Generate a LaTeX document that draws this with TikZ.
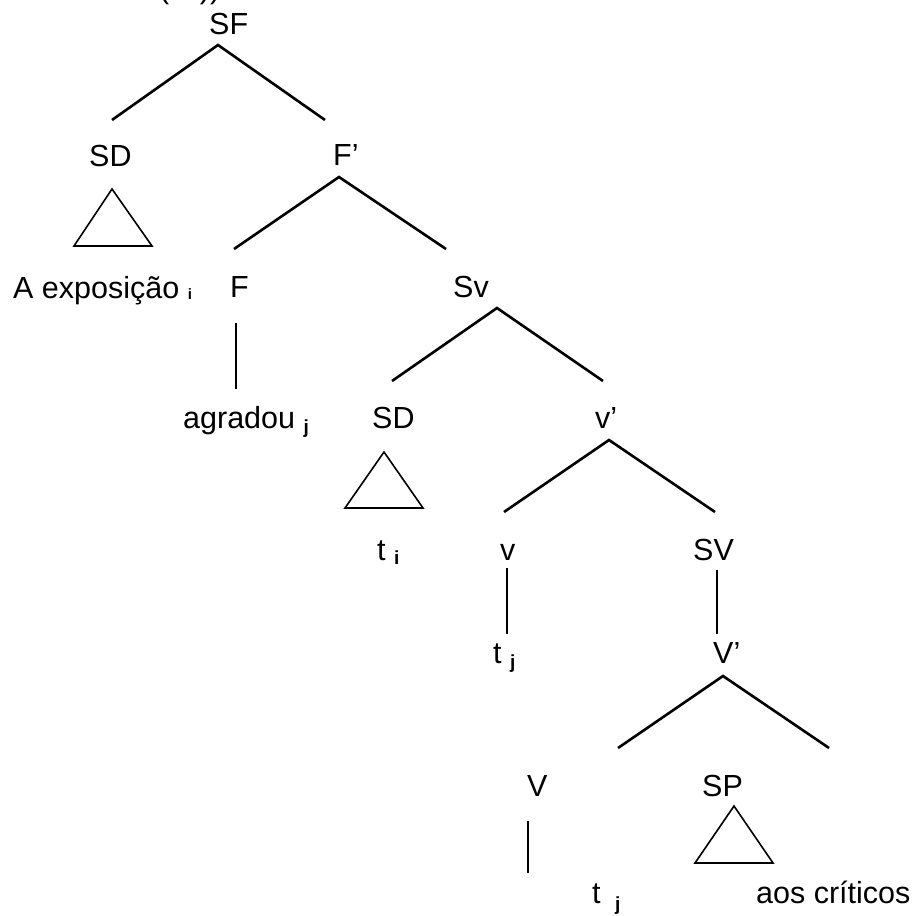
\documentclass[tikz,border=0pt]{standalone}
\usepackage{fontspec}
\setmainfont{Liberation Sans}
\newcommand{\subx}[2][-5pt]{\raisebox{#1}{\fontsize{19}{19}\selectfont\bfseries #2}}
\begin{document}
\begin{tikzpicture}[x=1pt,y=-1pt,
  lab/.style={anchor=base west,inner sep=0pt,font=\fontsize{30.5}{36}\selectfont},
  branch/.style={line width=2.6pt,line cap=butt,line join=miter},
  tri/.style={line width=1.6pt,line join=miter}]
\useasboundingbox (0,0) rectangle (920,915);
% partially visible text at top
\node[lab] (top) at (159,-1) {(\phantom{xx}))};
% labels
\node[lab] (SF) at (209,35) {SF};
\node[lab] (SD1) at (89,166) {SD};
\node[lab] (Fbar) at (333,165) {F’};
\node[lab] (expo) at (13,298) {A exposição \subx[-1pt]{\fontsize{15}{15}\selectfont i}};
\node[lab] (F) at (230,297) {F};
\node[lab] (Sv) at (453,297) {Sv};
\node[lab] (agr) at (183,428) {agradou \subx{j}};
\node[lab] (SD2) at (372,428) {SD};
\node[lab] (vbar) at (595,428) {v’};
\node[lab] (ti) at (377,560) {t \subx[-4pt]{i}};
\node[lab] (v) at (500,560) {v};
\node[lab] (SV) at (693,560) {SV};
\node[lab] (tj1) at (493,663) {t \subx{j}};
\node[lab] (Vbar) at (713,663) {V’};
\node[lab] (V) at (527,796) {V};
\node[lab] (SP) at (702,796) {SP};
\node[lab] (tj2) at (592,903) {t \hspace{6pt}\subx[-7pt]{j}};
\node[lab] (crit) at (756,903) {aos críticos};
% branch points
\coordinate (aSF) at (218,45);   \coordinate (lSF) at (112,120); \coordinate (rSF) at (325,120);
\coordinate (aF) at (339,177);   \coordinate (lF) at (234,249);  \coordinate (rF) at (446,249);
\coordinate (aSv) at (497,308);  \coordinate (lSv) at (392,381); \coordinate (rSv) at (603,381);
\coordinate (av) at (609,440);   \coordinate (lv) at (504,512);  \coordinate (rv) at (715,512);
\coordinate (aV) at (723,676);   \coordinate (lV) at (618,748);  \coordinate (rV) at (829,748);
\coordinate (F1) at (236,323);   \coordinate (F2) at (236,389);
\coordinate (v1) at (507,568);   \coordinate (v2) at (507,634);
\coordinate (S1) at (717,570);   \coordinate (S2) at (717,634);
\coordinate (V1) at (528,821);   \coordinate (V2) at (528,873);
\draw[branch] (lSF) -- (aSF) -- (rSF);
\draw[branch] (lF) -- (aF) -- (rF);
\draw[branch] (lSv) -- (aSv) -- (rSv);
\draw[branch] (lv) -- (av) -- (rv);
\draw[branch] (lV) -- (aV) -- (rV);
\draw[branch] (F1) -- (F2);
\draw[branch] (v1) -- (v2);
\draw[branch] (S1) -- (S2);
\draw[branch] (V1) -- (V2);
% triangles
\draw[tri] (112,189) -- (152,246) -- (74,246) -- cycle;
\draw[tri] (384,452) -- (423,508) -- (345,508) -- cycle;
\draw[tri] (734,806) -- (773,863) -- (695,863) -- cycle;
\end{tikzpicture}
\end{document}
